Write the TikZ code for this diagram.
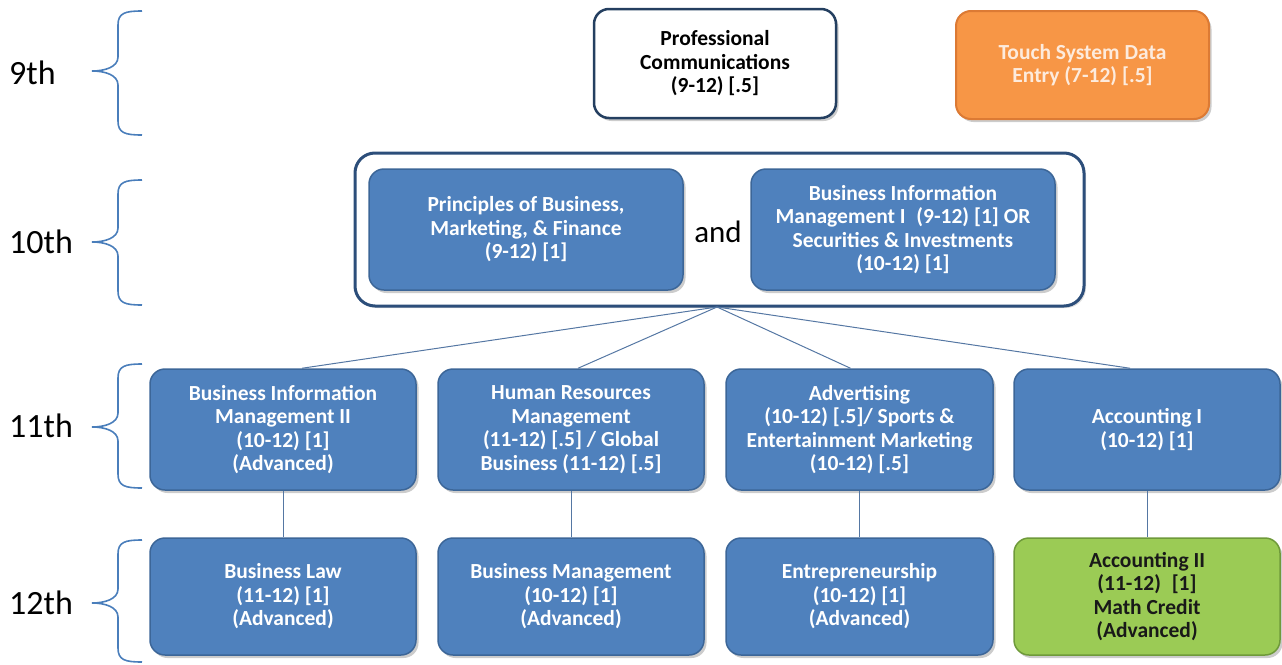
\documentclass[tikz,border=0pt]{standalone}
\usepackage{fontspec}
\setmainfont{Carlito}
\usetikzlibrary{shadows}
\definecolor{boxblue}{HTML}{4F81BD}
\definecolor{boxedge}{HTML}{3C6698}
\definecolor{navy}{HTML}{243F60}
\definecolor{contedge}{HTML}{2C4E7A}
\definecolor{orangefill}{HTML}{F79646}
\definecolor{orangeedge}{HTML}{DC7A34}
\definecolor{greenfill}{HTML}{9BCB55}
\definecolor{greenedge}{HTML}{6F9A3A}
\definecolor{bracecol}{HTML}{4A7EBB}
\definecolor{linecol}{HTML}{5577A3}
\definecolor{orangetext}{HTML}{FDEBDD}
\begin{document}
\begin{tikzpicture}[x=1pt,y=-1pt,
  coursebox/.style={draw=boxedge, line width=1.5pt, fill=boxblue, rounded corners=15pt,
    align=center, text=white, font=\fontsize{21.5}{23.5}\selectfont\bfseries,
    inner sep=0pt, drop shadow={shadow xshift=2.5pt, shadow yshift=-3pt, opacity=0.4}},
  wbox/.style={coursebox, fill=white, draw=navy, line width=2.5pt, text=black},
  obox/.style={coursebox, fill=orangefill, draw=orangeedge, line width=2pt, text=orangetext},
  gbox/.style={coursebox, fill=greenfill, draw=greenedge, text=black!90},
  grade/.style={font=\fontsize{34}{36}\selectfont, anchor=west, inner sep=0pt},
  gbrace/.style={draw=bracecol, line width=1.6pt},
  conn/.style={draw=linecol, line width=1pt}]
\useasboundingbox (0,0) rectangle (1282,664);

% grade labels
\node[grade] (g9) at (9,73) {9th};
\node[grade] (g10) at (9,242) {10th};
\node[grade] (g11) at (9,426) {11th};
\node[grade] (g12) at (9,603) {12th};

% braces
\foreach \t/\m/\b in {11/71/135, 180/242/305, 364/427/488, 540/603/662}{
  \draw[gbrace] (142,\t) .. controls (125,\t) and (118,\t+2) .. (118,\t+14)
    -- (118,\m-14) .. controls (118,\m-4) and (105,\m) .. (92,\m)
    .. controls (105,\m) and (118,\m+4) .. (118,\m+14)
    -- (118,\b-14) .. controls (118,\b-2) and (125,\b) .. (142,\b);
}

% row 9
\node[wbox, minimum width=242pt, minimum height=109pt] (pc) at (715,63.5)
  {Professional\\Communications\\(9-12) [.5]};
\node[obox, minimum width=253pt, minimum height=108pt] (ts) at (1082.5,65)
  {Touch System Data\\Entry (7-12) [.5]};

% row 10
\node[draw=contedge, line width=3pt, fill=white, rounded corners=20pt,
  minimum width=729pt, minimum height=153pt, inner sep=0pt,
  drop shadow={shadow xshift=2pt, shadow yshift=-2pt, opacity=0.25}] (cont) at (719.5,229.5) {};
\node[coursebox, minimum width=314pt, minimum height=121pt] (pbmf) at (526,229.5)
  {Principles of Business,\\Marketing, \& Finance\\(9-12) [1]};
\node[coursebox, minimum width=304pt, minimum height=121pt] (bim1) at (903,229.5)
  {Business Information\\Management I\enspace(9-12) [1] OR\\Securities \& Investments\\(10-12) [1]};
\node[font=\fontsize{31}{33}\selectfont, inner sep=0pt] (and) at (718,232) {and};

% row 11
\node[coursebox, minimum width=266pt, minimum height=121pt] (bim2) at (283,429.5)
  {Business Information\\Management II\\(10-12) [1]\\(Advanced)};
\node[coursebox, minimum width=266pt, minimum height=121pt] (hr) at (571,429.5)
  {Human Resources\\Management\\(11-12) [.5] / Global\\Business (11-12) [.5]};
\node[coursebox, minimum width=267pt, minimum height=121pt] (adv) at (859.5,429.5)
  {Advertising\\(10-12) [.5]/ Sports \&\\Entertainment Marketing\\(10-12) [.5]};
\node[coursebox, minimum width=266pt, minimum height=121pt] (acc1) at (1147,429.5)
  {Accounting I\\(10-12) [1]};

% row 12
\node[coursebox, minimum width=266pt, minimum height=117pt] (law) at (283,596.5)
  {Business Law\\(11-12) [1]\\(Advanced)};
\node[coursebox, minimum width=266pt, minimum height=117pt] (bm) at (571,596.5)
  {Business Management\\(10-12) [1]\\(Advanced)};
\node[coursebox, minimum width=267pt, minimum height=117pt] (ent) at (859.5,596.5)
  {Entrepreneurship\\(10-12) [1]\\(Advanced)};
\node[gbox, minimum width=266pt, minimum height=117pt] (acc2) at (1147,596.5)
  {Accounting II\\(11-12)\enspace[1]\\Math Credit\\(Advanced)};

% connectors
\coordinate (hub) at (717,307);
\draw[conn] (hub) -- ([xshift=19pt]bim2.north);
\draw[conn] (hub) -- ([xshift=7pt]hr.north);
\draw[conn] (hub) -- ([xshift=-9pt]adv.north);
\draw[conn] (hub) -- ([xshift=-17pt]acc1.north);
\draw[conn] (bim2.south) -- (law.north);
\draw[conn] (hr.south) -- (bm.north);
\draw[conn] (adv.south) -- (ent.north);
\draw[conn] (acc1.south) -- (acc2.north);
\end{tikzpicture}
\end{document}
